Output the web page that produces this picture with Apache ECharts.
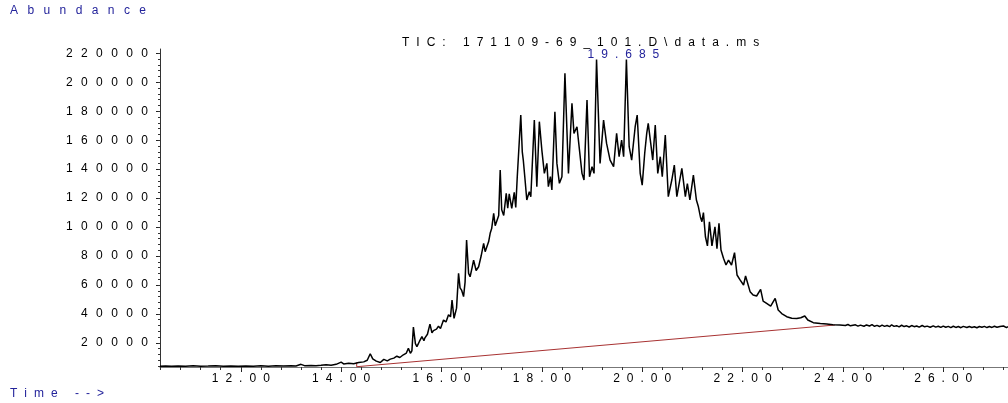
<!DOCTYPE html>
<html>
<head>
<meta charset="utf-8">
<script src="https://cdn.jsdelivr.net/npm/echarts@6/dist/echarts.min.js"></script>
<style>
  html, body { margin: 0; padding: 0; background: #fff; }
  #chart { width: 1008px; height: 403px; }
</style>
</head>
<body>
<div id="chart"></div>
<script>
// TIC trace, [time (min), abundance]
const leadIn = [
  [10.39, 3900], [10.5, 4100], [10.62, 3800], [10.75, 4050], [10.9, 3900], [11.05, 4150],
  [11.2, 3850], [11.35, 4000], [11.5, 4200], [11.65, 3900], [11.8, 4050], [11.95, 3850],
  [12.1, 4100], [12.25, 3950], [12.4, 4200], [12.55, 3900], [12.7, 4150], [12.85, 4000],
  [13.0, 4300], [13.1, 4100], [13.2, 5200], [13.27, 4300], [13.4, 4400], [13.5, 4200]
];
const rising = [
  [13.6, 4500], [13.7, 4900], [13.8, 4600], [13.9, 5200], [14.0, 6700], [14.05, 5500],
  [14.15, 5900], [14.25, 5600], [14.35, 6400], [14.45, 6900], [14.52, 8000], [14.58, 12500],
  [14.63, 9000], [14.7, 7400], [14.78, 6500], [14.85, 8600], [14.92, 7600], [14.98, 8800],
  [15.05, 9500], [15.11, 10800], [15.17, 9900], [15.24, 11800], [15.3, 13000], [15.34, 16300],
  [15.38, 12800], [15.41, 14500], [15.44, 31000], [15.48, 19500], [15.51, 17400], [15.56, 21000],
  [15.61, 24300], [15.65, 21500], [15.67, 23500], [15.72, 26000], [15.77, 33000], [15.81, 27000],
  [15.84, 28500], [15.9, 29500], [15.94, 31500], [15.98, 30000], [16.04, 35800], [16.09, 34500],
  [16.14, 39500], [16.18, 38000], [16.21, 49600], [16.25, 37000], [16.3, 44000], [16.34, 68000],
  [16.37, 58000], [16.4, 56500], [16.44, 52000], [16.47, 62000], [16.5, 91000], [16.54, 68000],
  [16.57, 65700], [16.61, 72000], [16.64, 77200], [16.69, 70000], [16.74, 72600], [16.79, 80000],
  [16.84, 88800], [16.87, 83000], [16.9, 84200], [16.94, 90000], [16.97, 95700], [17.0, 99000],
  [17.04, 109500], [17.07, 101000], [17.1, 100200], [17.14, 108000]
];
const cluster = [
  [17.17, 139400], [17.2, 112000], [17.24, 108000], [17.29, 123300], [17.32, 113000], [17.35, 123000],
  [17.4, 113000], [17.45, 124000], [17.48, 113500], [17.51, 134800], [17.58, 177400], [17.61, 152000],
  [17.63, 146300], [17.66, 134800], [17.7, 118700], [17.75, 124500], [17.78, 121000], [17.85, 173900],
  [17.9, 127900], [17.95, 172800], [18.0, 153200], [18.05, 137100], [18.1, 144000], [18.13, 127900],
  [18.17, 134800], [18.2, 125600], [18.26, 179700], [18.3, 144000], [18.35, 130200], [18.4, 134800],
  [18.46, 206200], [18.53, 137100], [18.6, 185500], [18.64, 164700], [18.7, 169300], [18.75, 153200],
  [18.8, 137100], [18.84, 132500], [18.9, 187700], [18.95, 134800], [19.0, 141700], [19.04, 137100],
  [19.09, 215700], [19.16, 144000], [19.23, 173900], [19.29, 157800], [19.36, 146300], [19.43, 141700],
  [19.49, 164700], [19.54, 148600], [19.59, 160100], [19.63, 148600], [19.685, 215700], [19.74, 155500],
  [19.79, 146300], [19.86, 169300], [19.9, 177400], [19.96, 137100], [20.0, 129000], [20.05, 151000],
  [20.09, 164700], [20.12, 171600], [20.17, 157800], [20.21, 146300], [20.26, 170500], [20.31, 137100],
  [20.36, 148600], [20.4, 134800], [20.46, 163600], [20.52, 121000], [20.59, 132500], [20.64, 142800],
  [20.69, 121000], [20.79, 140600], [20.86, 121000], [20.9, 130000], [20.95, 118700], [21.02, 135900],
  [21.08, 118700]
];
const falling = [
  [21.12, 114000], [21.16, 107000], [21.19, 103700], [21.22, 110000], [21.26, 93300], [21.3, 87000],
  [21.34, 103700], [21.39, 87000], [21.45, 100200], [21.49, 85000], [21.53, 102600], [21.57, 84200],
  [21.62, 78500], [21.67, 73800], [21.72, 77200], [21.78, 73800], [21.84, 82300], [21.89, 66900],
  [21.95, 63500], [22.02, 60000], [22.06, 66200], [22.09, 65500], [22.15, 55400], [22.21, 53100],
  [22.28, 52400], [22.36, 57000], [22.41, 48900], [22.48, 47300], [22.56, 45400], [22.65, 50800],
  [22.71, 42700], [22.78, 40300], [22.88, 38100], [22.98, 37000], [23.08, 36800], [23.16, 37400],
  [23.24, 38600], [23.3, 35800], [23.41, 34000], [23.55, 33400], [23.68, 33000], [23.8, 32600],
  [23.94, 32400]
];
const tail = [
  [24.05, 32000], [24.1, 32700], [24.15, 31800], [24.25, 32500], [24.3, 31600], [24.35, 32300],
  [24.42, 31500], [24.47, 32400], [24.53, 31700], [24.58, 32600], [24.63, 31500], [24.68, 32100],
  [24.73, 31300], [24.78, 32300], [24.83, 31400], [24.88, 32000], [24.93, 31200], [24.97, 32500],
  [25.02, 31400], [25.07, 31900], [25.12, 31100], [25.17, 32200], [25.22, 31300], [25.27, 31800],
  [25.32, 31000], [25.37, 32000], [25.42, 31200], [25.47, 31700], [25.52, 30900], [25.58, 32000],
  [25.63, 31100], [25.68, 31600], [25.74, 30800], [25.8, 31800], [25.85, 30900], [25.9, 31500],
  [25.95, 30700], [26.0, 31600], [26.05, 30800], [26.1, 31400], [26.15, 30600], [26.2, 31500],
  [26.25, 30700], [26.3, 31300], [26.35, 30500], [26.4, 31400], [26.47, 30600], [26.52, 31300],
  [26.57, 30700], [26.62, 31200], [26.67, 30500], [26.72, 31300], [26.77, 30800], [26.82, 31400],
  [26.87, 30600], [26.92, 31300], [26.97, 30700], [27.02, 31500], [27.07, 30800], [27.13, 31300],
  [27.2, 31700], [27.26, 30600], [27.29, 31200]
];
// integration baseline (start marker + line)
const baseline = [[14.31, 6600], [14.31, 3560], [23.84, 32360]];

const peakTime = 19.685;
const peakValue = 215700;

const xMajorTicks = [12, 14, 16, 18, 20, 22, 24, 26];
const yMajorTicks = [20000, 40000, 60000, 80000, 100000, 120000, 140000, 160000, 180000, 200000, 220000];

const titleText = 'TIC: 171109-69_101.D\\data.ms';
const yName = 'Abundance';
const xName = 'Time -->';

const trace = [].concat(leadIn, rising, cluster, falling, tail);

const xMinorTicks = [];
for (let i = 26; i <= 68; i++) xMinorTicks.push(+(i * 0.4).toFixed(1));
const yMinorTicks = [];
for (let i = 1; i <= 55; i++) yMinorTicks.push(i * 4000);

// the plot software spreads its letters out
const SEP = '\u2002\u2009';
function spaced(s, sep) {
  return s.split('').join(sep || SEP);
}

const FONT = '"Liberation Sans", Arial, sans-serif';
const BLUE = '#23239b';

const chart = echarts.init(document.getElementById('chart'));
chart.setOption({
  animation: false,
  backgroundColor: '#fff',
  grid: { left: 160, right: 0, top: 49, bottom: 36 },
  graphic: [
    { type: 'text', left: 10, top: 5, style: { text: spaced(yName, '\u2002\u2009\u200a'), font: '12px ' + FONT, fill: BLUE } },
    { type: 'text', left: 10, top: 388, style: { text: spaced(xName, '\u2002\u200a'), font: '12px ' + FONT, fill: BLUE } },
    { type: 'text', left: 402, top: 37, style: { text: spaced(titleText, '\u2002\u200a'), font: '12px ' + FONT, fill: '#000' } }
  ],
  xAxis: [
    {
      type: 'value', min: 10.39, max: 27.29, position: 'bottom',
      axisLine: { lineStyle: { color: '#777', width: 1 } },
      axisTick: { customValues: xMajorTicks, length: 5, lineStyle: { color: '#222' } },
      axisLabel: {
        customValues: xMajorTicks, margin: 6, fontSize: 12, fontFamily: FONT, color: '#000',
        formatter: v => spaced(v.toFixed(2), '\u2002\u200a')
      },
      splitLine: { show: false }
    },
    {
      type: 'value', min: 10.39, max: 27.29, position: 'bottom',
      axisLine: { show: false },
      axisTick: { customValues: xMinorTicks, length: 3, lineStyle: { color: '#333' } },
      axisLabel: { show: false },
      splitLine: { show: false }
    }
  ],
  yAxis: [
    {
      type: 'value', min: 3360, max: 223000, position: 'left',
      axisLine: { show: true, lineStyle: { color: '#333', width: 1 } },
      axisTick: { show: true, customValues: yMajorTicks, length: 4, lineStyle: { color: '#222' } },
      axisLabel: {
        customValues: yMajorTicks, margin: 12, fontSize: 12, fontFamily: FONT, color: '#000',
        formatter: v => spaced(String(v), '\u2002\u2009')
      },
      splitLine: { show: false }
    },
    {
      type: 'value', min: 3360, max: 223000, position: 'left',
      axisLine: { show: false },
      axisTick: { show: true, customValues: yMinorTicks, length: 2, lineStyle: { color: '#333' } },
      axisLabel: { show: false },
      splitLine: { show: false }
    }
  ],
  series: [
    {
      type: 'line', data: baseline, symbol: 'none', silent: true,
      lineStyle: { color: '#a83232', width: 1 }
    },
    {
      type: 'line', data: trace, symbol: 'none', silent: true,
      lineStyle: { color: '#000', width: 1.5 },
      markPoint: {
        symbol: 'circle', symbolSize: 0, silent: true,
        label: {
          show: true, position: 'top', distance: 0, offset: [-3, 1],
          fontSize: 12, fontFamily: FONT, color: BLUE,
          formatter: () => spaced(peakTime.toFixed(3), '\u2002\u200a')
        },
        data: [{ coord: [peakTime, peakValue] }]
      }
    }
  ]
});
</script>
</body>
</html>
